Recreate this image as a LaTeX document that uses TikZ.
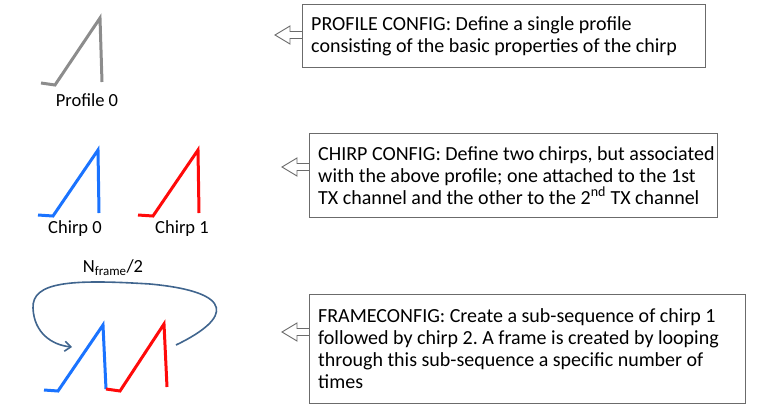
\documentclass[tikz,border=0pt]{standalone}
\usepackage{fontspec}
\setmainfont{Carlito}
\frenchspacing
\usetikzlibrary{arrows.meta,calc}
\definecolor{boxgray}{HTML}{6B6B6B}
\definecolor{profgray}{HTML}{8C8C8C}
\definecolor{chblue}{HTML}{1A73FF}
\definecolor{chred}{HTML}{FF0A0A}
\definecolor{loopblue}{HTML}{40658E}
\tikzset{
  infobox/.style={draw=boxgray, line width=0.9pt, fill=white, anchor=north west,
    inner sep=0pt},
  infotext/.style={anchor=west, align=left, inner sep=0pt,
    font=\fontsize{20}{22}\selectfont},
  blockarrow/.style={draw=boxgray, line width=0.9pt, fill=white, line join=miter},
  ramp/.style={line width=3pt, line join=miter, line cap=butt},
  lbl/.style={font=\fontsize{18.5}{22}\selectfont, inner sep=0pt},
  loopline/.style={draw=loopblue, line width=1.6pt, -{Straight Barb[length=6pt,width=10pt]}}
}
\begin{document}
\begin{tikzpicture}[x=1pt,y=-1pt]
\useasboundingbox (0,0) rectangle (765,413);

% ---- arrows (drawn before boxes so box border covers shaft end)
\newcommand{\leftblockarrow}[1]{%
  \draw[blockarrow] ($(#1)+(-27,0)$) -- ($(#1)+(-12,-9)$) -- ($(#1)+(-12,-3.5)$)
    -- ($(#1)+(1,-3.5)$) -- ($(#1)+(1,3.5)$) -- ($(#1)+(-12,3.5)$)
    -- ($(#1)+(-12,9)$) -- cycle;}

\coordinate (a1) at (302,35);
\coordinate (a2) at (309,167);
\coordinate (a3) at (309,332);
\leftblockarrow{a1}
\leftblockarrow{a2}
\leftblockarrow{a3}

% ---- boxes
\node[infobox, minimum width=403pt, minimum height=63pt] (box1) at (302,4) {};
\node[infotext] (t1) at ($(box1.west)+(9,0)$)
  {PROFILE CONFIG: Define a single profile\\consisting of the basic properties of the chirp};
\node[infobox, minimum width=408pt, minimum height=84pt] (box2) at (309,133) {};
\node[infotext] (t2) at ($(box2.west)+(9,0)$)
  {CHIRP CONFIG: Define two chirps, but associated\\with the above profile; one attached to the 1st\\TX channel and the other to the 2\textsuperscript{nd} TX channel};
\node[infobox, minimum width=436pt, minimum height=109pt] (box3) at (309,294) {};
\node[infotext] (t3) at ($(box3.west)+(9,0)$)
  {FRAMECONFIG: Create a sub-sequence of chirp 1\\followed by chirp 2. A frame is created by looping\\through this sub-sequence a specific number of\\times};

% ---- profile 0
\draw[ramp, profgray] (41,83) -- (55,85) -- (100,18) -- (102,82);
\node[lbl] (p0) at (87,100) {Profile 0};

% ---- chirp 0 / chirp 1
\draw[ramp, chblue] (38,215) -- (53,216) -- (98,150) -- (99,213);
\node[lbl] (c0) at (75,229) {Chirp 0};
\draw[ramp, chred] (138,215) -- (153,216) -- (198,150) -- (199,213);
\node[lbl] (c1) at (182,229) {Chirp 1};

% ---- frame
\draw[ramp, chblue] (44,390) -- (58,391) -- (103,325) -- (106,389);
\draw[ramp, chred] (106,389) -- (120,391) -- (164,324) -- (167,387);
\node[lbl] (nf) at (113,268) {N\textsubscript{frame}/2};

\coordinate (ls) at (176,345);
\coordinate (le) at (72,347);
\draw[loopline] (ls) .. controls (232,318) and (236,292) .. (150,284)
  .. controls (70,279) and (32,282) .. (33,308)
  .. controls (34,333) and (52,345) .. (le);
\end{tikzpicture}
\end{document}
